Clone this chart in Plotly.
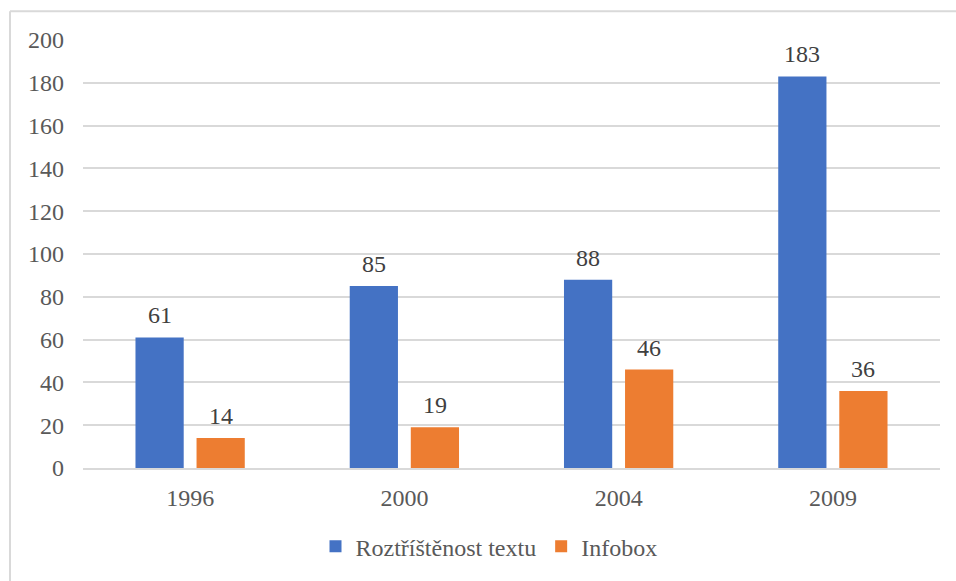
import plotly.graph_objects as go

years = ["1996", "2000", "2004", "2009"]
fragmentation = [61, 85, 88, 183]
infobox = [14, 19, 46, 36]
y_ticks = [0, 20, 40, 60, 80, 100, 120, 140, 160, 180, 200]

FONT = "Liberation Serif"
FS = 24
GRID = "#d9d9d9"
BLUE, ORANGE = "#4472C4", "#ED7D31"

W, H = 956, 581
ml, mr, mt, mb = 83, 16, 40, 111
pw, ph = W - ml - mr, H - mt - mb
BARGAP, GROUPGAP = 0.43, 0.21


def px_x(p):
    return (p - ml) / pw


def px_y(p):
    return (H - mb - p) / ph


fig = go.Figure()
fig.add_trace(go.Bar(x=years, y=fragmentation, name="Roztříštěnost textu",
                     marker=dict(color=BLUE, line=dict(width=0))))
fig.add_trace(go.Bar(x=years, y=infobox, name="Infobox",
                     marker=dict(color=ORANGE, line=dict(width=0))))

# value labels above each bar, offset to the bar's slot within its group
slot = (1 - BARGAP) * pw / len(years) / 2
annotations = []
for series, dx in ((fragmentation, -slot / 2), (infobox, slot / 2)):
    for i, v in enumerate(series):
        annotations.append(dict(
            x=i, y=v, xref="x", yref="y", text=str(v), showarrow=False,
            xshift=dx, yshift=22, yanchor="middle",
            font=dict(family=FONT, size=FS, color="#404040"),
        ))

fig.update_layout(
    width=W, height=H,
    margin=dict(l=ml, r=mr, t=mt, b=mb, pad=0),
    paper_bgcolor="white", plot_bgcolor="white",
    barmode="group", bargap=BARGAP, bargroupgap=GROUPGAP,
    font=dict(family=FONT, size=FS, color="#595959"),
    showlegend=True,
    legend=dict(
        orientation="h", x=px_x(489), xanchor="center",
        y=px_y(549), yanchor="middle",
        font=dict(family=FONT, size=FS, color="#595959"),
        itemwidth=30, itemsizing="constant",
        bgcolor="rgba(0,0,0,0)",
    ),
    xaxis=dict(
        type="category", range=[-0.5, len(years) - 0.5],
        categoryorder="array", categoryarray=years,
        showgrid=False, showline=True, linecolor=GRID, linewidth=2,
        ticks="", ticklabelstandoff=7,
        tickfont=dict(family=FONT, size=FS, color="#595959"),
    ),
    yaxis=dict(
        range=[0, 200], tickvals=y_ticks,
        showgrid=True, gridcolor=GRID, gridwidth=1.5,
        zeroline=False, showline=False, ticks="",
        ticklabelstandoff=18,
        tickfont=dict(family=FONT, size=FS, color="#595959"),
    ),
    annotations=annotations,
    shapes=[
        dict(type="line", xref="paper", yref="paper",
             x0=px_x(10), x1=px_x(W + 5), y0=px_y(11), y1=px_y(11),
             line=dict(color=GRID, width=2)),
        dict(type="line", xref="paper", yref="paper",
             x0=px_x(10), x1=px_x(10), y0=px_y(11), y1=px_y(H + 5),
             line=dict(color=GRID, width=2)),
    ],
)

fig.write_html("out.html")
